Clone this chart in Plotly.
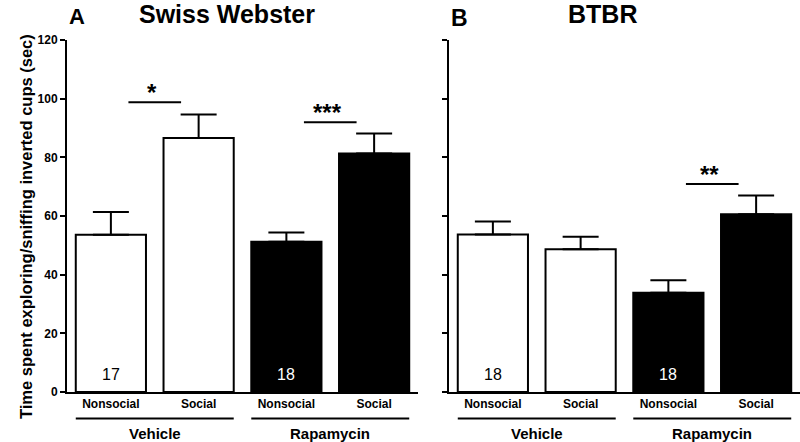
import plotly.graph_objects as go

# ---- data ----
categories = ["Nonsocial", "Social", "Nonsocial", "Social"]
groups = ["Vehicle", "Rapamycin"]
sw_means = [53.6, 86.6, 51.2, 81.3]
sw_sem = [7.8, 8.0, 3.2, 6.8]
btbr_means = [53.7, 48.7, 33.8, 60.6]
btbr_sem = [4.4, 4.2, 4.3, 6.4]
sw_n = ["17", "", "18", ""]
btbr_n = ["18", "", "18", ""]
sw_sig = [(0, 1, 98.8, "*"), (2, 3, 92.0, "***")]
btbr_sig = [(2, 3, 70.9, "**")]
y_ticks = [0, 20, 40, 60, 80, 100, 120]

FONT = "Liberation Sans"
W, H = 800, 442
ML, MR, MT, MB = 0, 0, 40, 50
xs = list(range(len(categories)))
fills = ["white", "white", "black", "black"]
ncol = ["black", "black", "white", "white"]

fig = go.Figure()

def add_panel(means, sem, nlab, sig, xa, ya):
    fig.add_trace(go.Bar(
        x=xs, y=means, width=0.8, xaxis=xa, yaxis=ya,
        marker=dict(color=fills, line=dict(color="black", width=2)),
        error_y=dict(type="data", symmetric=False, array=sem,
                     arrayminus=[0] * len(sem), color="black",
                     thickness=2, width=18),
        showlegend=False, hoverinfo="skip"))
    xr = "x" if xa == "x" else "x2"
    yr = "y" if ya == "y" else "y2"
    for i, t in enumerate(nlab):
        if t:
            fig.add_annotation(x=xs[i], y=6, xref=xr, yref=yr, text=t,
                               showarrow=False,
                               font=dict(family=FONT, size=16, color=ncol[i]))
    for a, b, lvl, lab in sig:
        fig.add_shape(type="line", xref=xr, yref=yr, x0=a + 0.2, x1=b - 0.2,
                      y0=lvl, y1=lvl, line=dict(color="black", width=2))
        fig.add_annotation(x=(a + b) / 2 - 0.03, y=lvl, xref=xr, yref=yr, text=lab,
                           showarrow=False, yanchor="bottom", yshift=-6,
                           font=dict(family=FONT, size=24, color="black",
                                     weight="bold"))
    for g, name in enumerate(groups):
        x0 = xs[2 * g] - 0.4
        x1 = xs[2 * g + 1] + 0.4
        fig.add_shape(type="line", xref=xr, yref="paper", x0=x0, x1=x1,
                      y0=-0.075, y1=-0.075, line=dict(color="black", width=2))
        fig.add_annotation(x=(x0 + x1) / 2, y=-0.117, xref=xr, yref="paper",
                           text=name, showarrow=False, yanchor="middle",
                           font=dict(family=FONT, size=15, color="black",
                                     weight="bold"))

add_panel(sw_means, sw_sem, sw_n, sw_sig, "x", "y")
add_panel(btbr_means, btbr_sem, btbr_n, btbr_sig, "x2", "y2")

xcommon = dict(range=[-0.5, 3.5], tickvals=xs, ticktext=categories,
               showline=True, linecolor="black", linewidth=2, ticks="",
               showgrid=False, zeroline=False, fixedrange=True,
               tickfont=dict(family=FONT, size=12, color="black", weight="bold"))
ycommon = dict(range=[0, 120], tickvals=y_ticks, showline=True,
               linecolor="black", linewidth=2, ticks="outside", ticklen=5,
               tickwidth=2, tickcolor="black", showgrid=False, zeroline=False,
               fixedrange=True,
               tickfont=dict(family=FONT, size=12, color="black", weight="bold"))

fig.update_layout(
    width=W, height=H, margin=dict(l=ML, r=MR, t=MT, b=MB),
    paper_bgcolor="white", plot_bgcolor="white",
    font=dict(family=FONT, color="black"),
    xaxis=dict(domain=[67 / W, 418 / W], anchor="y", **xcommon),
    xaxis2=dict(domain=[449 / W, 1.0], anchor="y2", **xcommon),
    yaxis=dict(domain=[0, 1], anchor="x", **ycommon),
    yaxis2=dict(domain=[0, 1], anchor="x2", showticklabels=False, **ycommon),
    bargap=0.2,
)

def ptext(xpx, ypx, text, size, anchor="center"):
    fig.add_annotation(x=xpx / W, y=(H - MB - ypx) / (H - MT - MB),
                       xref="paper", yref="paper", text=text, showarrow=False,
                       xanchor=anchor, yanchor="middle",
                       font=dict(family=FONT, size=size, color="black",
                                 weight="bold"))

ptext(77, 17, "A", 22)
ptext(227, 14.5, "Swiss Webster", 25)
ptext(459, 18, "B", 23)
ptext(602, 14.5, "BTBR", 25)

fig.add_annotation(x=15 / W, y=(H - MB - 227) / (H - MT - MB), xref="paper",
                   yref="paper", text="Time spent exploring/sniffing inverted cups (sec)",
                   textangle=-90, showarrow=False,
                   font=dict(family=FONT, size=16.5, color="black", weight="bold"))

fig.write_html("out.html", config={"displayModeBar": False},
               post_script="document.body.style.margin='0';document.body.style.overflow='hidden';")
